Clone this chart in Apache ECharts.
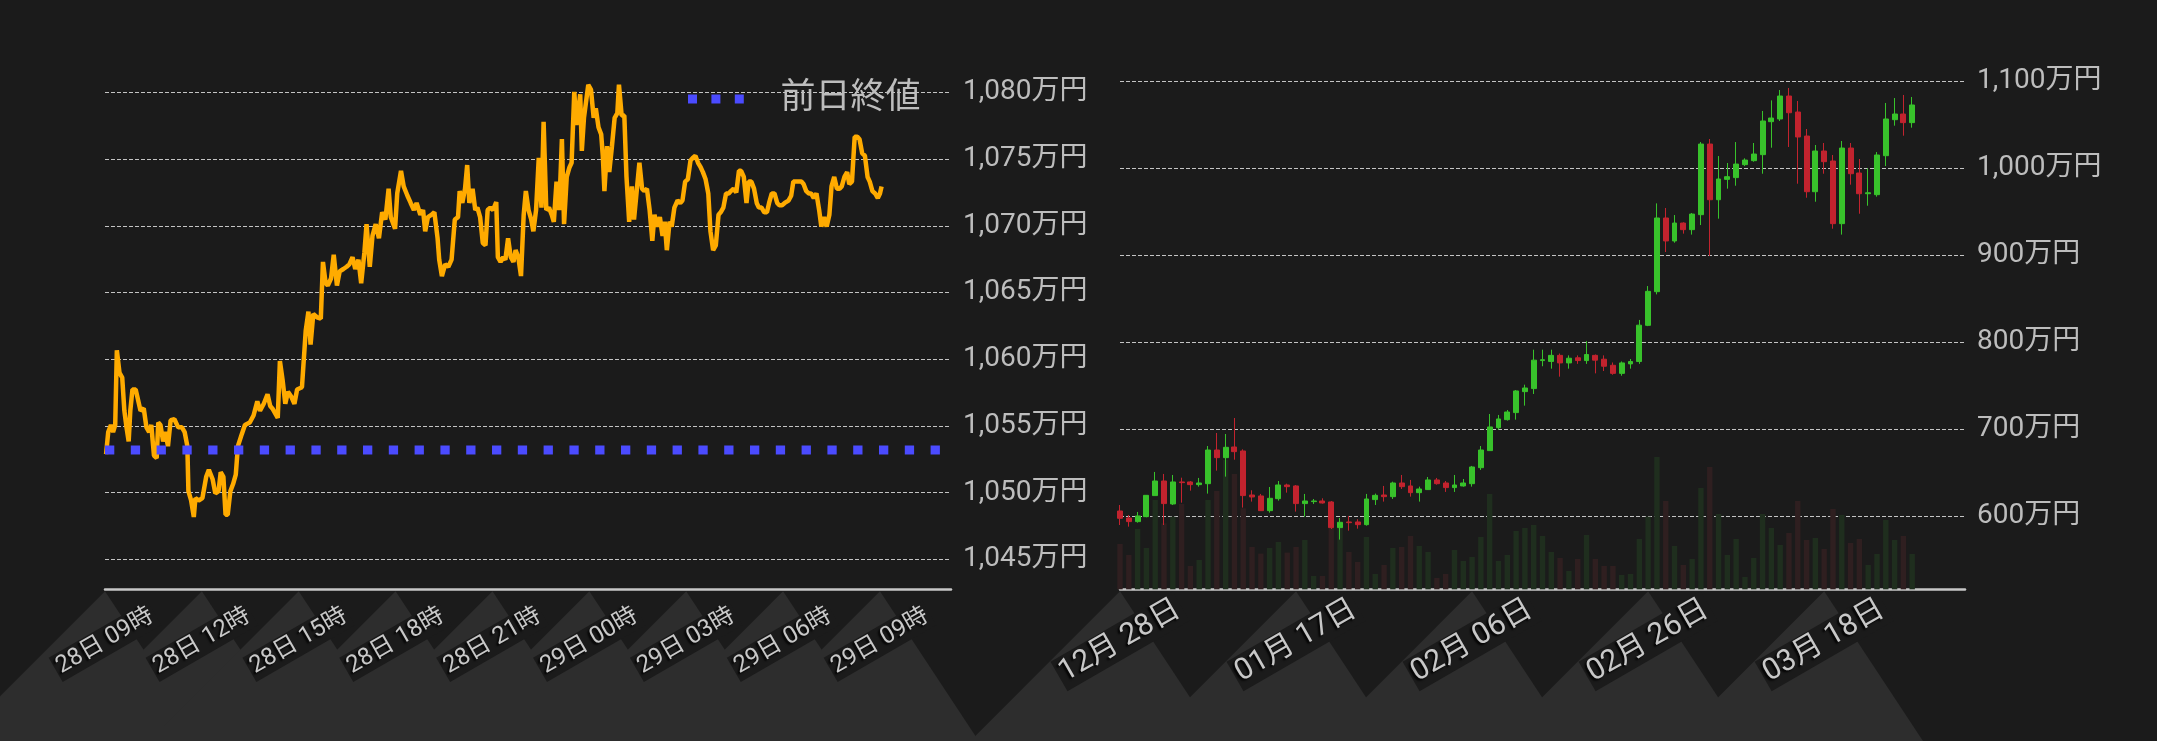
<!DOCTYPE html>
<html><head><meta charset="utf-8">
<script src="https://cdn.jsdelivr.net/npm/echarts@6/dist/echarts.min.js"></script>
<style>html,body{margin:0;padding:0;background:#1b1b1b;}#c{width:2157px;height:741px;}</style>
</head><body><div id="c"></div>
<script>
// ---------- intraday (left) ----------
const intradayMinutes = [2,6,11,15,19,22,27,32,36,40,44,47,51,57,62,66,72,77,82,86,91,96,99,103,108,112,117,122,129,136,143,148,153,155,160,165,168,174,181,188,193,200,205,211,215,220,224,228,233,238,243,247,254,260,269,276,283,288,295,302,307,311,316,321,325,330,335,340,346,352,357,366,373,378,382,387,394,401,405,410,414,420,425,431,436,443,449,454,460,465,471,476,482,486,492,497,503,509,515,521,527,531,539,543,550,555,562,568,574,579,586,591,595,600,607,612,618,621,626,632,638,644,650,656,659,664,669,673,677,683,688,692,697,702,707,711,716,721,727,730,735,740,744,749,754,759,763,768,773,778,782,787,792,796,801,806,811,815,820,825,830,834,839,844,849,853,858,863,867,872,876,879,883,886,890,894,898,903,908,912,917,922,925,928,933,937,942,947,952,955,960,965,969,974,979,983,988,993,998,1002,1007,1012,1017,1021,1026,1031,1036,1040,1044,1049,1053,1058,1064,1069,1073,1078,1083,1088,1092,1097,1102,1107,1111,1116,1121,1125,1130,1135,1140,1144,1149,1154,1159,1163,1168,1173,1178,1182,1187,1192,1196,1201,1206,1211,1215,1220,1225,1230,1234,1239,1244,1249,1253,1258,1263,1270,1275,1279,1284,1289,1294,1298,1303,1308,1312,1317,1322,1327,1331,1336,1341,1346,1350,1355,1360,1365,1369,1374,1379,1383,1388,1393,1398,1402,1407,1412,1417,1421,1426,1431,1436,1440,1443];
const intradayPrices = [1052.88,1054.54,1055.07,1054.54,1055.07,1060.67,1058.97,1058.61,1056.13,1054.89,1053.83,1056.13,1057.73,1057.73,1056.84,1056.13,1056.31,1054.89,1054.54,1055.07,1052.77,1052.59,1055.25,1055.07,1053.83,1054.54,1053.48,1055.43,1055.50,1054.89,1054.89,1054.54,1053.48,1050.11,1049.41,1048.17,1049.58,1049.41,1049.58,1051.18,1051.71,1051.00,1049.94,1050.11,1051.53,1051.18,1048.34,1048.34,1050.11,1050.64,1051.35,1053.48,1054.36,1055.07,1055.25,1055.78,1056.84,1056.13,1056.66,1057.37,1056.49,1056.31,1055.96,1055.60,1059.85,1058.44,1056.66,1057.55,1057.20,1056.66,1057.73,1057.90,1062.15,1063.57,1061.09,1063.39,1063.14,1063.04,1067.29,1065.69,1065.52,1066.05,1067.82,1065.52,1066.58,1066.76,1066.93,1067.11,1067.64,1066.76,1067.46,1065.69,1068.00,1070.12,1066.93,1069.24,1070.12,1069.06,1071.01,1070.47,1072.78,1070.65,1069.77,1072.42,1074.12,1072.95,1072.25,1071.71,1071.18,1071.71,1070.83,1071.18,1069.59,1070.65,1070.83,1071.01,1069.06,1067.46,1066.23,1067.11,1066.93,1067.46,1070.47,1070.65,1072.60,1071.71,1072.78,1074.55,1071.71,1072.78,1071.18,1071.36,1070.65,1068.70,1068.53,1071.18,1071.36,1071.18,1071.78,1067.64,1067.29,1067.64,1067.46,1069.06,1067.64,1067.29,1068.17,1067.64,1066.23,1070.83,1072.60,1071.18,1070.47,1069.59,1071.18,1075.08,1071.36,1077.80,1071.18,1071.36,1070.83,1070.30,1073.31,1071.18,1076.49,1070.12,1073.66,1074.37,1074.72,1080.04,1077.56,1078.44,1079.86,1075.61,1078.09,1079.33,1080.57,1080.21,1078.09,1078.80,1077.38,1076.85,1075.25,1072.60,1075.96,1074.02,1075.96,1078.09,1078.44,1080.57,1078.26,1078.26,1073.66,1070.30,1072.95,1070.47,1072.60,1074.72,1072.78,1072.60,1072.78,1071.18,1068.88,1070.83,1069.94,1070.65,1069.24,1070.30,1068.17,1070.30,1069.94,1071.36,1071.89,1071.71,1071.89,1073.31,1073.48,1074.90,1075.08,1075.25,1074.72,1074.37,1074.02,1073.48,1072.42,1069.59,1068.17,1068.53,1070.83,1071.01,1071.36,1072.42,1072.42,1072.60,1072.78,1072.49,1074.12,1074.12,1073.66,1071.71,1073.31,1073.31,1072.78,1071.71,1071.36,1071.36,1071.01,1071.01,1071.71,1072.42,1072.42,1071.71,1071.54,1071.54,1071.71,1071.89,1072.25,1073.31,1073.31,1073.31,1073.31,1073.13,1072.60,1072.42,1072.42,1072.07,1072.42,1071.18,1069.94,1070.65,1069.94,1070.83,1072.95,1073.66,1072.78,1072.78,1072.95,1073.66,1074.02,1073.13,1073.31,1076.67,1076.67,1076.49,1075.43,1075.25,1073.66,1073.31,1072.60,1072.42,1072.07,1072.42,1072.95];
const prevClose = 1053.2;
const intradayTickLabels = ['28日 09時','28日 12時','28日 15時','28日 18時','28日 21時','29日 00時','29日 03時','29日 06時','29日 09時'];
const intradayTickStep = 180;   // minutes
const intradayAxisEnd = 1572;   // minutes

// ---------- daily (right) ----------
const dailyOpen  = [606.1,598.1,593.9,599.6,623.8,640.6,614.2,639.5,639.5,636.4,637.5,676.2,667.4,679.7,675.1,624.5,623.4,606.5,620.3,636.0,634.9,614.6,616.9,617.6,616.5,587.0,593.5,593.5,590.4,619.2,624.5,622.6,638.3,634.9,627.2,630.7,641.8,638.3,633.0,634.9,637.5,655.9,675.5,701.9,711.1,719.2,743.3,746.8,779.0,778.0,785.0,776.3,782.2,779.0,785.0,780.6,773.6,764.3,775.2,777.9,819.5,858.2,942.9,916.5,937.1,929.5,946.7,1027.9,963.9,987.3,989.3,1004.2,1008.8,1015.7,1053.6,1056.7,1083.1,1064.7,1037.1,973.1,1019.9,1008.4,936.4,1023.3,994.6,970.8,969.7,1014.5,1055.9,1062.4,1052.5];
const dailyClose = [597.7,593.9,600.4,624.1,640.6,614.6,639.5,638.7,636.4,638.3,676.2,667.4,679.3,674.3,623.8,622.2,606.5,620.7,636.0,634.1,614.6,617.6,617.6,615.3,587.0,593.1,592.7,590.4,619.9,624.1,622.6,638.3,634.1,627.2,631.4,641.8,637.5,633.0,636.0,638.3,656.7,676.2,702.7,711.9,719.9,744.1,747.5,779.5,780.0,785.0,776.3,781.7,779.0,786.0,779.5,772.5,764.3,776.3,777.9,819.7,858.6,942.9,916.5,937.1,929.5,947.4,1027.9,963.9,987.7,990.4,1004.9,1009.5,1016.4,1054.4,1057.8,1083.1,1063.9,1036.0,973.1,1019.9,1007.6,936.4,1023.3,993.8,970.8,971.9,1015.3,1056.7,1062.4,1052.5,1072.8];
const dailyLow   = [590.0,588.1,592.7,598.9,623.5,590.0,613.0,615.7,629.5,634.1,626.1,652.5,645.6,665.1,610.0,616.9,606.5,604.2,618.0,627.2,605.4,599.6,614.2,614.6,585.4,573.2,583.5,585.8,589.3,613.0,616.9,619.9,631.4,622.6,616.9,630.3,636.4,628.0,628.0,634.1,634.1,653.3,675.5,699.6,710.0,711.1,727.2,740.6,772.5,769.7,760.5,769.7,775.2,775.2,764.3,767.0,762.7,761.6,769.7,775.2,818.6,855.1,903.8,914.5,924.9,923.8,934.8,899.2,942.1,976.6,980.0,1002.6,1007.6,993.8,1023.7,1054.4,1024.5,982.3,966.2,961.6,993.8,930.6,923.8,981.2,947.8,957.0,967.4,1002.6,1049.0,1037.5,1046.7];
const dailyHigh  = [613.0,601.5,605.0,624.5,651.0,648.7,647.5,644.4,640.6,644.1,680.8,695.8,694.6,713.0,677.0,629.9,625.7,633.7,640.6,637.5,636.0,625.7,619.9,620.7,617.6,598.1,600.4,596.6,625.7,626.1,634.9,639.8,647.5,641.8,634.1,645.2,644.1,640.6,647.5,642.9,657.9,680.8,717.6,716.5,722.2,745.2,751.3,791.5,791.5,791.5,787.1,785.0,785.0,801.3,786.0,785.0,776.8,778.0,780.8,825.7,864.7,959.7,954.4,946.3,937.9,948.6,1030.2,1033.7,1014.1,1006.1,1030.2,1011.5,1029.1,1065.9,1078.1,1090.0,1092.3,1077.4,1045.2,1026.8,1029.1,1015.3,1031.4,1029.1,1010.7,1000.0,1018.7,1075.1,1080.8,1084.3,1082.0];
const dailyVolume = [136,103,181,124,268,198,218,256,70,88,268,295,388,346,243,127,107,124,142,110,127,148,40,40,184,188,112,82,157,46,73,124,127,160,130,112,34,46,118,85,97,157,286,85,103,175,184,193,160,112,94,55,91,163,91,70,70,43,46,151,218,397,265,130,73,91,304,367,226,103,151,37,94,226,184,133,169,265,148,154,121,241,223,139,151,73,106,208,148,160,106];
const dailyStart = {month: 12, day: 28};
const dailyAxisDays = 97;
const monthLengths = {12: 31, 1: 31, 2: 28, 3: 31, 4: 30};
const dailyLabelStep = 20;

// categories
const dailyDates = [];
(function(){
  let m = dailyStart.month, d = dailyStart.day;
  for (let i = 0; i < dailyAxisDays; i++) {
    dailyDates.push(String(m).padStart(2,'0') + '月 ' + String(d).padStart(2,'0') + '日');
    d++; if (d > monthLengths[m]) { d = 1; m = m === 12 ? 1 : m + 1; }
  }
})();

const FONT = 'Roboto, "Noto Sans CJK JP", sans-serif';
const GREEN = '#38c22b', RED = '#c2232e';
const VOL_GREEN = '#1f2e1e', VOL_RED = '#2f1f20';
const LABEL = '#bdbdbd';
const BLUE = '#4b4bff';

const fmtYen = v => Math.round(v).toLocaleString('en-US') + '万円';

const chart = echarts.init(document.getElementById('c'), null, {renderer: 'canvas'});

const xLabelBase = {
  rotate: 30, align: 'center', verticalAlign: 'middle', margin: 52,
  color: '#c8c8c8', fontFamily: FONT,
  backgroundColor: '#1b1b1b', padding: [2, 3],
  textShadowColor: 'rgba(0,0,0,0.9)', textShadowOffsetX: -2, textShadowOffsetY: 2, textShadowBlur: 2
};
const splitLine = {show: true, showMinLine: false, showMaxLine: false,
  lineStyle: {color: '#c4c4c4', width: 1, type: [4, 2]}};

chart.setOption({
  backgroundColor: '#1b1b1b',
  animation: false,
  textStyle: {fontFamily: FONT},
  legend: {
    data: [{name: '前日終値',
            icon: 'path://M0,0h10v10h-10z M26,0h10v10h-10z M52,0h10v10h-10z',
            itemStyle: {color: BLUE, borderWidth: 0}}],
    left: 683, top: 76, itemWidth: 61, itemHeight: 9,
    textStyle: {color: LABEL, fontSize: 35, lineHeight: 36, fontFamily: FONT, padding: [0, 0, 0, 29]},
    selectedMode: false
  },
  grid: [
    {left: 105, right: 1206, top: 59, bottom: 151.7},
    {left: 1120, right: 192, top: 60, bottom: 151.7}
  ],
  xAxis: [
    {gridIndex: 0, type: 'value', min: 0, max: intradayAxisEnd, interval: intradayTickStep,
     axisLine: {show: true, onZero: false, lineStyle: {color: '#c8c8c8', width: 2.5}},
     axisTick: {show: false}, splitLine: {show: false},
     axisLabel: Object.assign({}, xLabelBase, {fontSize: 24, showMaxLabel: false,
       formatter: v => (v % intradayTickStep === 0 && intradayTickLabels[v / intradayTickStep]) || ''})},
    {gridIndex: 1, type: 'category', data: dailyDates, boundaryGap: false,
     axisLine: {show: true, onZero: false, lineStyle: {color: '#c8c8c8', width: 2.5}},
     axisTick: {show: false}, splitLine: {show: false},
     axisLabel: Object.assign({}, xLabelBase, {fontSize: 30, interval: dailyLabelStep - 1})}
  ],
  yAxis: [
    {gridIndex: 0, type: 'value', position: 'right', min: 1042.75, max: 1082.5, splitNumber: 8,
     axisLine: {show: false}, axisTick: {show: false}, splitLine: splitLine,
     axisLabel: {margin: 12, color: LABEL, fontSize: 28, fontFamily: FONT, showMinLabel: false, showMaxLabel: false,
       formatter: v => (Math.abs(v / 5 - Math.round(v / 5)) < 1e-6 ? fmtYen(v) : '')}},
    {gridIndex: 1, type: 'value', position: 'right', min: 516.1, max: 1124.5, splitNumber: 6,
     axisLine: {show: false}, axisTick: {show: false}, splitLine: splitLine,
     axisLabel: {margin: 12, color: LABEL, fontSize: 28, fontFamily: FONT, showMinLabel: false, showMaxLabel: false,
       formatter: v => (Math.abs(v / 100 - Math.round(v / 100)) < 1e-6 ? fmtYen(v) : '')}},
    {gridIndex: 1, type: 'value', min: 0, max: 1588, show: false, splitLine: {show: false}}
  ],
  series: [
    {name: '価格', type: 'line', xAxisIndex: 0, yAxisIndex: 0, z: 3,
     data: intradayMinutes.map((m, i) => [m, intradayPrices[i]]),
     showSymbol: false, symbol: 'none', lineStyle: {color: '#ffab00', width: 4.5}, itemStyle: {color: '#ffab00'}},
    {name: '前日終値', type: 'line', xAxisIndex: 0, yAxisIndex: 0, z: 4,
     data: [[0, prevClose], [intradayAxisEnd, prevClose]], symbol: 'none',
     lineStyle: {color: BLUE, width: 9, type: [9.3, 16.5], cap: 'butt'}, itemStyle: {color: BLUE}},
    {name: '出来高', type: 'bar', xAxisIndex: 1, yAxisIndex: 2, barWidth: 5.4, z: 1,
     data: dailyVolume.map((v, i) => ({value: v, itemStyle: {color: dailyClose[i] >= dailyOpen[i] ? VOL_GREEN : VOL_RED}}))},
    {name: '日足', type: 'candlestick', xAxisIndex: 1, yAxisIndex: 1, barWidth: 5.4, z: 3,
     data: dailyOpen.map((o, i) => [o, dailyClose[i], dailyLow[i], dailyHigh[i]]),
     itemStyle: {color: GREEN, color0: RED, borderColor: GREEN, borderColor0: RED, borderWidth: 1}}
  ]
});

// decorative grey "mountains" under each x tick, positioned through the axes
function drawMountains() {
  const H = 741;
  const els = [];
  const ticks = [];
  for (let m = 0; m < intradayTickLabels.length; m++) {
    ticks.push([chart.convertToPixel({xAxisIndex: 0}, m * intradayTickStep),
                chart.convertToPixel({yAxisIndex: 0}, 1042.75)]);
  }
  for (let i = 0; i < dailyOpen.length; i += dailyLabelStep) {
    ticks.push([chart.convertToPixel({xAxisIndex: 1}, dailyDates[i]),
                chart.convertToPixel({yAxisIndex: 1}, 516.1)]);
  }
  ticks.forEach(([x, y]) => {
    const ay = y + 2, d = H - ay;
    els.push({type: 'polygon', z: -10, silent: true,
      shape: {points: [[x, ay], [x - d, H], [x + d * 0.66, H]]},
      style: {fill: '#2d2d2d'}});
  });
  chart.setOption({graphic: els});
}
drawMountains();
</script></body></html>
